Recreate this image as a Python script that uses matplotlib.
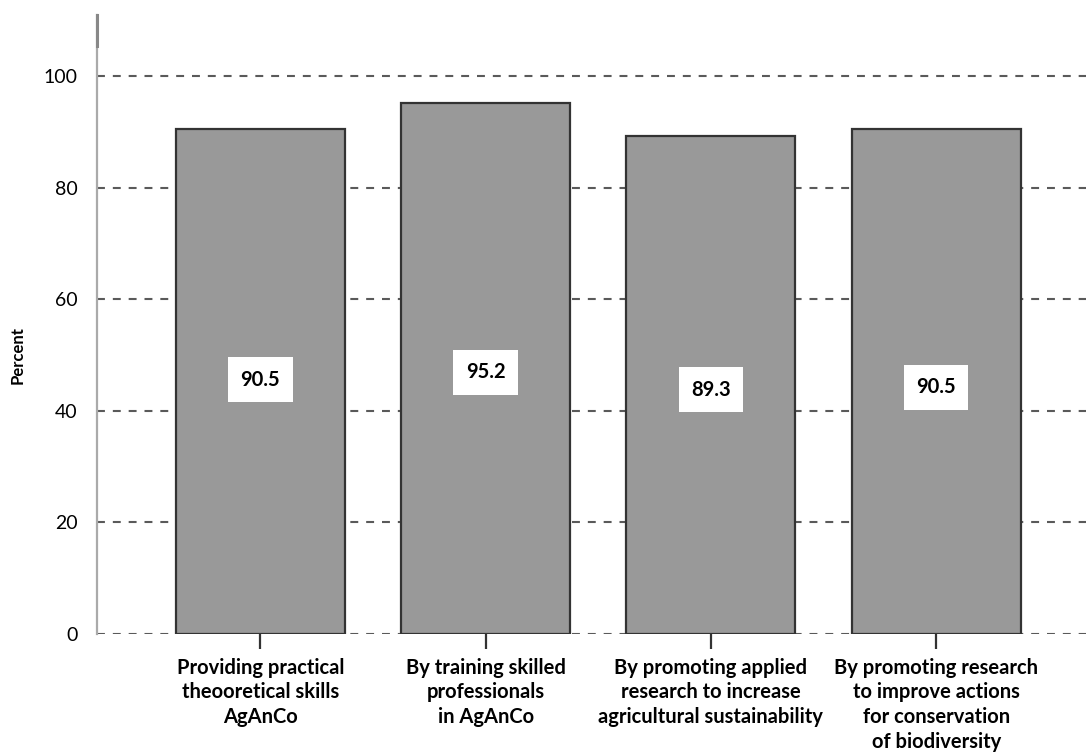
import matplotlib
matplotlib.use("Agg")
import matplotlib.pyplot as plt

plt.rcParams["font.family"] = ["Lato", "DejaVu Sans"]

categories = [
    "Providing practical\ntheooretical skills\nAgAnCo",
    "By training skilled\nprofessionals\nin AgAnCo",
    "By promoting applied\nresearch to increase\nagricultural sustainability",
    "By promoting research\nto improve actions\nfor conservation\nof biodiversity",
]
values = [90.5, 95.2, 89.3, 90.5]
label_heights = [45.6, 46.9, 43.8, 44.2]
yticks = [0, 20, 40, 60, 80, 100]

fig = plt.figure(figsize=(10.86, 7.54), dpi=100)
ax = fig.add_axes([0.0893, 0.1592, 0.9107, 0.8209])

x = list(range(len(values)))
ax.set_xlim(-0.725, 3.665)
ax.set_ylim(0, 111)

# dashed reference lines behind the bars
for t in yticks:
    ax.axhline(t, color="#5a5a5a", lw=1.5, ls=(0, (3.8, 3.8)), zorder=1)

ax.bar(x, values, width=0.75, color="#999999", edgecolor="#333333",
       linewidth=1.6, zorder=2)

for xi, v, h in zip(x, values, label_heights):
    ax.text(xi, h, f"{v:.1f}", ha="center", va="center", fontsize=14.5,
            fontweight="bold", color="black", zorder=3,
            bbox=dict(boxstyle="square,pad=0.62", facecolor="white",
                      edgecolor="none"))

ax.set_yticks(yticks)
ax.set_yticklabels([str(t) for t in yticks], fontsize=14)
ax.tick_params(axis="y", length=0, pad=14)

ax.set_xticks(x)
ax.set_xticklabels(categories, fontsize=14.5, fontweight="bold",
                   linespacing=1.3)
ax.tick_params(axis="x", length=11, width=1.6, color="#333333", pad=6,
               direction="out")

fig.text(18 / 1086, 1 - 355 / 754, "Percent", rotation=90, ha="center",
         va="center", fontsize=12, fontweight="bold")

for s in ["top", "right", "bottom"]:
    ax.spines[s].set_visible(False)
ax.spines["left"].set_color("#aaaaaa")
ax.spines["left"].set_linewidth(1.6)
ax.plot([-0.725, -0.725], [105.5, 111], color="#888888", lw=2.2,
        clip_on=False, zorder=4)

fig.savefig("out.png", dpi=100)
